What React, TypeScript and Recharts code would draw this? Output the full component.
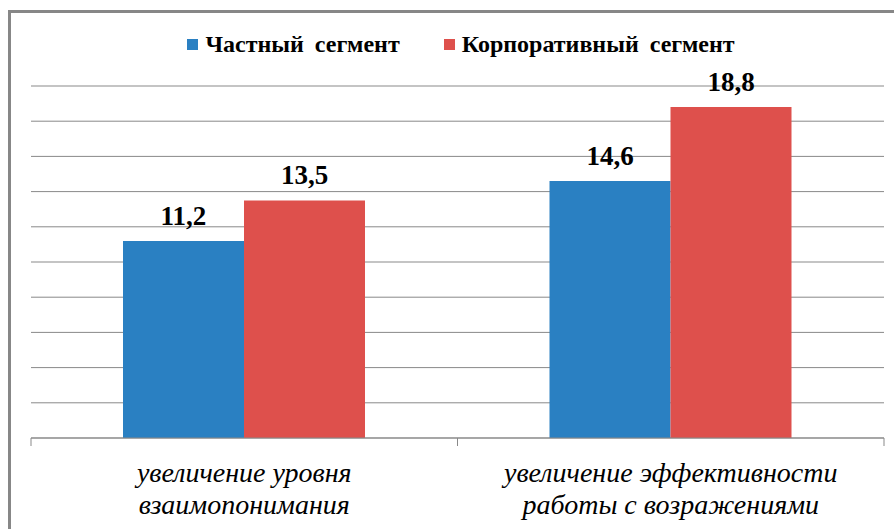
import * as R from 'recharts'
import { BarChart, Bar, XAxis, YAxis, CartesianGrid, LabelList } from 'recharts'

const categories = ['увеличение уровня|взаимопонимания', 'увеличение эффективности|работы с возражениями']
const privateSegment = [11.2, 14.6]
const corporateSegment = [13.5, 18.8]
const seriesNames = ['Частный сегмент', 'Корпоративный сегмент']
const yTicks = [0, 2, 4, 6, 8, 10, 12, 14, 16, 18, 20]

const BLUE = '#2A80C2'
const RED = '#DE504C'
const GRID = '#898989'
const SERIF = "'Liberation Serif', 'Times New Roman', 'DejaVu Serif', serif"

const data = categories.map((c, i) => ({
  name: c,
  priv: privateSegment[i],
  corp: corporateSegment[i],
}))

const CategoryTick = ({ x, y, payload }: any) => {
  const lines = String(payload.value).split('|')
  return (
    <text
      x={x}
      y={y}
      textAnchor="middle"
      style={{ fontFamily: SERIF, fontStyle: 'italic', fontSize: 28 }}
      fill="#000"
    >
      {lines.map((l, i) => (
        <tspan key={i} x={x} dy={i === 0 ? 36 : 32}>{l}</tspan>
      ))}
    </text>
  )
}

// tick marks at category boundaries, like the original
const BoundaryTicks = () => {
  const usePlotArea = (R as any).usePlotArea
  const area = usePlotArea ? usePlotArea() : null
  if (!area) return null
  const bottom = area.y + area.height
  const xs = [area.x, area.x + area.width / 2, area.x + area.width]
  return (
    <g>
      {xs.map((x, i) => (
        <line key={i} x1={x} x2={x} y1={bottom} y2={bottom + 8} stroke={GRID} strokeWidth={1} />
      ))}
    </g>
  )
}

const fmt = (v: any) => String(v).replace('.', ',')
const labelStyle = { fontFamily: SERIF, fontWeight: 'bold', fontSize: 27, fill: '#000' }

export default function App() {
  return (
    <div style={{ position: 'absolute', left: 0, top: 0, width: 894, height: 529, overflow: 'hidden', background: '#fff' }}>
      <div style={{ position: 'absolute', left: 8, top: 10, width: 940, height: 600, border: '3px solid #878787' }} />
      <div
        style={{
          position: 'absolute',
          top: 31,
          left: 14,
          width: 894,
          display: 'flex',
          justifyContent: 'center',
          fontFamily: SERIF,
          fontWeight: 'bold',
          fontSize: 24,
          wordSpacing: 5,
          color: '#000',
        }}
      >
        {seriesNames.map((n, i) => (
          <div key={n} style={{ display: 'flex', alignItems: 'center', marginRight: i === 0 ? 44 : 0 }}>
            <span style={{ display: 'inline-block', width: 11, height: 11, background: i === 0 ? BLUE : RED, marginRight: 7 }} />
            <span>{n}</span>
          </div>
        ))}
      </div>
      <div style={{ position: 'absolute', left: 0, top: 0 }}>
        <BarChart
          width={894}
          height={529}
          data={data}
          margin={{ top: 86, right: 10, bottom: 1, left: 31 }}
          barGap={0}
        >
          <CartesianGrid vertical={false} stroke={GRID} />
          <YAxis hide domain={[0, 20]} ticks={yTicks} />
          <XAxis
            dataKey="name"
            height={90}
            axisLine={{ stroke: GRID }}
            tickLine={false}
            tick={<CategoryTick />}
            interval={0}
          />
          <Bar dataKey="priv" fill={BLUE} barSize={121} isAnimationActive={false}>
            <LabelList dataKey="priv" position="top" offset={16} formatter={fmt} style={labelStyle} />
          </Bar>
          <Bar dataKey="corp" fill={RED} barSize={121} isAnimationActive={false}>
            <LabelList dataKey="corp" position="top" offset={16} formatter={fmt} style={labelStyle} />
          </Bar>
          <BoundaryTicks />
        </BarChart>
      </div>
    </div>
  )
}
